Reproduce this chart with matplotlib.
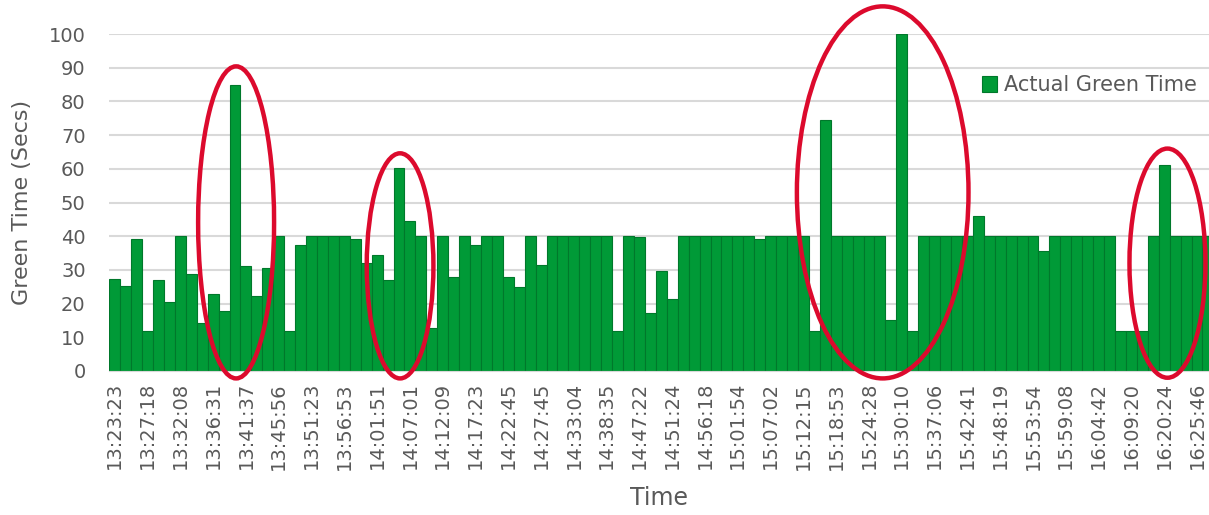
import matplotlib
matplotlib.use("Agg")
import matplotlib.pyplot as plt
from matplotlib.patches import Ellipse

tick_labels = ["13:23:23", "13:27:18", "13:32:08", "13:36:31", "13:41:37", "13:45:56",
               "13:51:23", "13:56:53", "14:01:51", "14:07:01", "14:12:09", "14:17:23",
               "14:22:45", "14:27:45", "14:33:04", "14:38:35", "14:47:22", "14:51:24",
               "14:56:18", "15:01:54", "15:07:02", "15:12:15", "15:18:53", "15:24:28",
               "15:30:10", "15:37:06", "15:42:41", "15:48:19", "15:53:54", "15:59:08",
               "16:04:42", "16:09:20", "16:20:24", "16:25:46"]

green_time = [27.4, 25.2, 39.2, 11.9, 26.9, 20.5, 40, 28.7, 14.2, 22.8,
              17.8, 85, 31.1, 22.4, 30.7, 40, 11.9, 37.4, 40, 40,
              40, 40, 39.2, 32.1, 34.3, 26.9, 60.3, 44.4, 40, 12.7,
              40, 27.9, 40, 37.4, 40, 40, 27.9, 24.8, 40, 31.5,
              40, 40, 40, 40, 40, 40, 11.9, 40, 39.7, 17.3,
              29.7, 21.5, 40, 40, 40, 40, 40, 40, 40, 39.3,
              40, 40, 40, 40, 11.9, 74.6, 40, 40, 40, 40,
              40, 15, 100, 11.9, 40, 40, 40, 40, 40, 46,
              40, 40, 40, 40, 40, 35.6, 40, 40, 40, 40,
              40, 40, 11.9, 11.9, 11.9, 40, 61.2, 40, 40, 40,
              40]

# highlighted regions: (center_x, center_y, width, height) in data units
highlight_cx = [11.1, 26.1, 70.25, 96.3]
highlight_cy = [44.1, 31.2, 53.0, 32.0]
highlight_w = [6.95, 6.1, 15.7, 6.95]
highlight_h = [92.6, 66.8, 110.4, 68.0]

text_color = "#595959"
bar_color = "#009A37"
edge_color = "#00782B"

fig = plt.figure(figsize=(12.09, 5.15), dpi=100)
ax = fig.add_axes([109.3 / 1209, 144 / 515, 1 - 109.3 / 1209, (481 - 144) / 515])

x = list(range(len(green_time)))
ax.bar(x, green_time, width=1.0, color=bar_color, edgecolor=edge_color,
       linewidth=0.8, label="Actual Green Time", zorder=2)

ax.set_xlim(-0.5, 100.1)
ax.set_ylim(0, 100)
ax.set_yticks(range(0, 101, 10))
ax.yaxis.grid(True, color="#D9D9D9", linewidth=1.5, zorder=0)
ax.set_axisbelow(True)

tick_pos = [3 * i for i in range(len(tick_labels))]
ax.set_xticks(tick_pos)
ax.set_xticklabels(tick_labels, rotation=90, fontsize=14, color=text_color)
ax.tick_params(axis="x", length=0, pad=8)
ax.tick_params(axis="y", length=0, pad=17, labelsize=14, labelcolor=text_color)

for s in ["top", "right", "left"]:
    ax.spines[s].set_visible(False)
ax.spines["bottom"].set_color("#D9D9D9")

ax.set_ylabel("Green Time (Secs)", fontsize=16, color=text_color, labelpad=12)
ax.set_xlabel("Time", fontsize=17, color=text_color, labelpad=12)

for cx, cy, w, h in zip(highlight_cx, highlight_cy, highlight_w, highlight_h):
    e = Ellipse((cx, cy), w, h, fill=False, edgecolor="#DC0A2D", linewidth=3.2,
                clip_on=False, zorder=5)
    ax.add_patch(e)

leg = ax.legend(loc="upper right", bbox_to_anchor=(1.0, 0.915), frameon=False,
                fontsize=15, handlelength=0.75, handleheight=0.75, handletextpad=0.3,
                borderaxespad=0.2)
for t in leg.get_texts():
    t.set_color(text_color)

fig.savefig("out.png", dpi=100)
